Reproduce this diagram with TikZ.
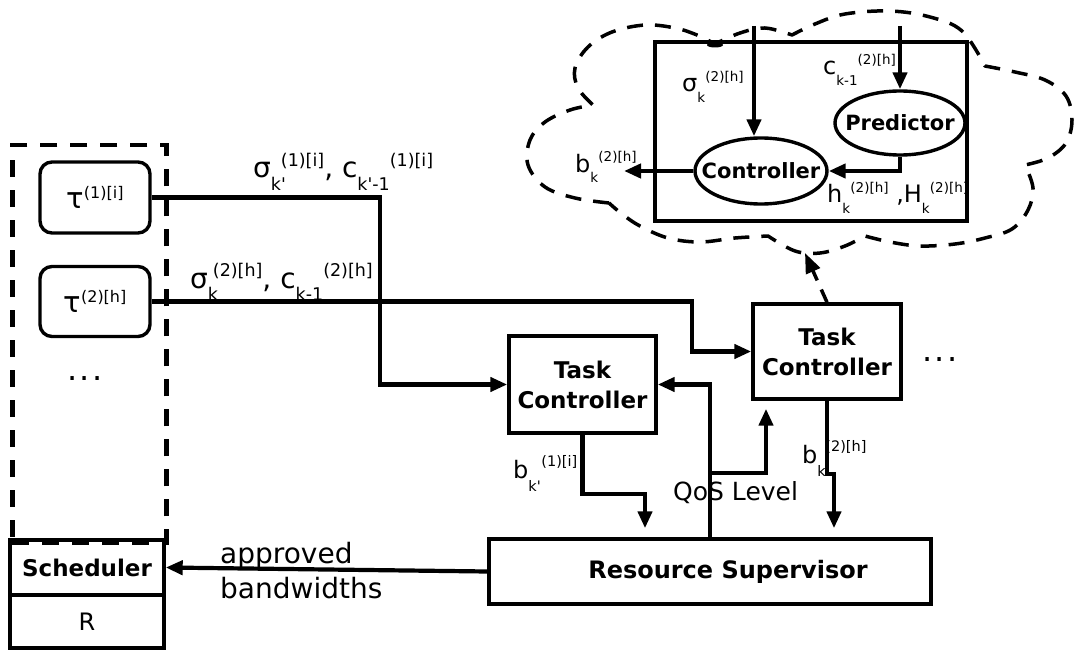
\documentclass[tikz,border=0pt]{standalone}
\usepackage{fontspec}
\setmainfont{DejaVu Sans}[Ligatures=TeXOff]
\usetikzlibrary{arrows.meta,shapes.geometric}
\newcommand{\scsz}{17.5}
\newcommand{\sbr}{0.43em}
\newcommand{\spr}{0.40em}
\newcommand{\sbx}[1]{\raisebox{-\sbr}{\fontsize{\scsz}{\scsz}\selectfont #1}}
\newcommand{\spx}[1]{\raisebox{\spr}{\fontsize{\scsz}{\scsz}\selectfont #1}}
\newcommand{\ssa}[3][8pt]{\rlap{\sbx{#2}}\hspace{#1}\spx{#3}}
\begin{document}
\begin{tikzpicture}[x=1pt,y=-1pt,
  box/.style={draw,line width=3.4pt,inner sep=0pt},
  conn/.style={line width=4.2pt},
  arr/.style={conn,-{Triangle[length=17pt,width=14pt]}},
  lab/.style={font=\fontsize{28}{28}\selectfont,inner sep=0pt,anchor=base west},
  blab/.style={font=\def\scsz{14.5}\def\sbr{0.56em}\def\spr{0.5em}\fontsize{24}{24}\selectfont,inner sep=0pt,anchor=base west},
  clab/.style={font=\def\scsz{13.5}\def\sbr{0.42em}\def\spr{0.45em}\fontsize{24}{24}\selectfont,inner sep=0pt,anchor=base west},
  bld/.style={font=\fontsize{23}{30}\selectfont\bfseries},
  cloudline/.style={line width=3.5pt,dash pattern=on 16pt off 12pt,line join=round},
  tau/.style={box,rounded corners=12pt,minimum width=110pt,minimum height=71pt,font=\def\scsz{16}\def\spr{0.34em}\fontsize{29}{29}\selectfont},
  tc/.style={box,minimum width=147pt,minimum height=97pt,align=center,bld},
  oval/.style={ellipse,draw,line width=3.4pt,inner xsep=-15pt,inner ysep=0pt,minimum height=64pt,font=\fontsize{21}{21}\selectfont\bfseries},
  dots/.style={font=\fontsize{32}{32}\selectfont,inner sep=0pt}
]
\useasboundingbox (0,0) rectangle (1074,650);

% left group
\node[draw,line width=4.5pt,dash pattern=on 17pt off 13pt,minimum width=154pt,minimum height=397pt,inner sep=0pt,anchor=north west] (grp) at (10,143) {};
\node[box,minimum width=154pt,minimum height=55pt,bld] (sched) at (87,567.5) {Scheduler};
\node[box,minimum width=154pt,minimum height=53pt,font=\fontsize{24}{24}\selectfont] (R) at (87,621.5) {R};
\node[tau] (t1) at (95,197.5) {τ\spx{(1)[i]}};
\node[tau,minimum height=70pt] (t2) at (95,301.5) {τ\spx{(2)[h]}};
\node[dots] (d1) at (85,379) {.\hspace{2.3pt}.\hspace{2.3pt}.};

% controllers and supervisor
\node[tc] (tc1) at (582.5,384.5) {Task\\Controller};
\node[tc,minimum width=148pt,minimum height=95pt] (tc2) at (827,351.5) {Task\\Controller};
\node[dots] (d2) at (940,360) {.\hspace{2.3pt}.\hspace{2.3pt}.};
\node[box,minimum width=442pt,minimum height=65pt,font=\fontsize{24}{24}\selectfont\bfseries] (rs) at (710,571.5) {\hspace*{36pt}Resource Supervisor};

% cloud
\draw[cloudline]
  plot[smooth,tension=0.6] coordinates {(609,203) (575,198) (545,187) (528,165) (530,140) (545,122) (570,110) (593,105)}
  -- plot[smooth,tension=0.6] coordinates {(593,105) (578,88) (575,68) (588,47) (612,32) (645,25) (675,28) (697,35) (715,44)}
  -- plot[smooth,tension=0.6] coordinates {(715,44) (740,33) (765,28) (792,35)}
  -- plot[smooth,tension=0.6] coordinates {(792,35) (815,24) (845,14) (890,11) (930,17) (962,31) (985,66)}
  -- plot[smooth,tension=0.6] coordinates {(985,66) (1015,72) (1045,80) (1066,96) (1072,120) (1066,143) (1048,158) (1025,165)}
  -- plot[smooth,tension=0.6] coordinates {(1025,165) (1033,188) (1028,210) (1012,229) (985,238) (955,244) (920,246) (890,242) (865,236)}
  -- plot[smooth,tension=0.6] coordinates {(865,236) (845,246) (820,253) (795,251) (768,236)}
  -- plot[smooth,tension=0.6] coordinates {(768,236) (735,238) (700,242) (668,238) (640,226) (622,214) (609,203)};
\node[box,minimum width=312pt,minimum height=179pt] (inner) at (811,131.5) {};
\fill (715,45) ellipse (8pt and 2.5pt);
\node[oval,minimum width=132pt,minimum height=66pt] (ctrl) at (761,171) {Controller};
\node[oval,minimum width=130pt] (pred) at (900,123) {Predictor};
\coordinate (sigin) at (754,26);
\coordinate (cin) at (900,26);
\coordinate (bout) at (624,171);
\draw[arr] (sigin) -- (sigin |- ctrl.north);
\draw[arr] (cin) -- (pred.north);
\draw[arr] (pred.south) |- (ctrl.east);
\draw[arr] (ctrl.west) -- (bout);
\node[clab] (cb) at (575,172) {b\ssa{k}{(2)[h]}};
\node[clab] (cs) at (682,92) {σ\ssa{k}{(2)[h]}};
\node[clab] (cc) at (823,75) {c\sbx{k-1}\spx{(2)[h]}};
\node[clab] (ch) at (827,203) {h\ssa{k}{(2)[h]} ,H\ssa{k}{(2)[h]}};

% connectors
\draw[arr] (t1.east) -- ++(228,0) |- (tc1.west);
\draw[arr] (t2.east) -- ++(540,0) |- (tc2.west);
\draw[arr,shorten >=9pt] (tc1.south) -- ++(0,59) -| ([xshift=-65pt]rs.north);
\draw[arr,shorten >=9pt] (tc2.south) -- ++(0,73) -| ([xshift=124pt]rs.north);
\draw[arr] (rs.north) |- (tc1.east);
\coordinate (q) at (710,473);
\draw[arr,shorten >=8pt] (q) -| ([xshift=-61pt]tc2.south);
\draw[arr] (rs.west) -- (sched.east);
\coordinate (cloudtip) at (805,253);
\draw[line width=3.5pt,dash pattern=on 14pt off 10pt,-{Triangle[length=20pt,width=15pt]}] (tc2.north) -- (cloudtip);

% labels
\node[lab] (l1) at (253,178) {σ\ssa[10pt]{k'}{(1)[i]}, c\sbx{k'-1}\spx{(1)[i]}};
\node[lab] (l2) at (190,288) {σ\ssa[5pt]{k}{(2)[h]}, c\sbx{k-1}\spx{(2)[h]}};
\node[blab] (lb1) at (513,478) {b\ssa[13pt]{k'}{(1)[i]}};
\node[blab] (lb2) at (802,463) {b\ssa{k}{(2)[h]}};
\node[font=\fontsize{25}{25}\selectfont,inner sep=0pt,anchor=base west] (qos) at (673,500) {QoS Level};
\node[font=\fontsize{28}{35}\selectfont,inner sep=0pt,align=left,anchor=north west] (appr) at (220,542) {approved\\bandwidths};
\end{tikzpicture}
\end{document}
